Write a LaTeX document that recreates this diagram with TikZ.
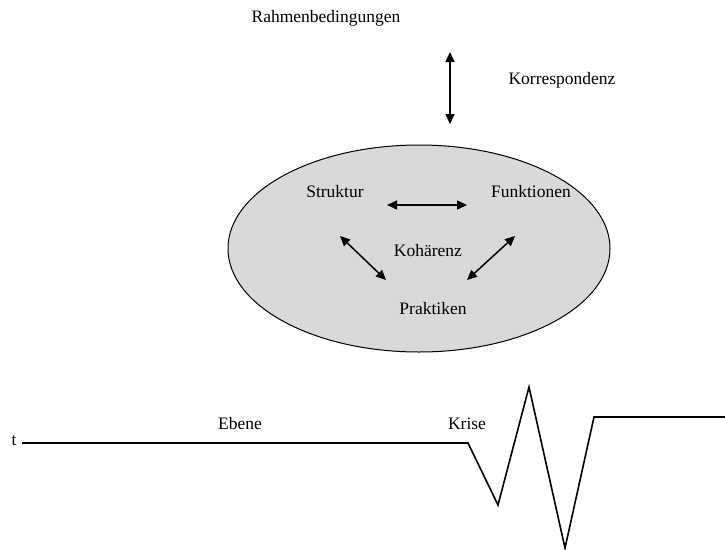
\documentclass[tikz,border=0pt]{standalone}
\usepackage{fontspec}
\setmainfont{Liberation Serif}
\usetikzlibrary{arrows.meta,shapes.geometric}
\begin{document}
\begin{tikzpicture}[x=1pt,y=-1pt,
  lbl/.style={font=\fontsize{17.5}{20}\selectfont, inner sep=0pt},
  twoway/.style={line width=1.5pt, {Triangle[length=10pt,width=9pt]}-{Triangle[length=10pt,width=9pt]}},
  oval/.style={draw, line width=1pt, fill=gray!30, ellipse, minimum width=382pt, minimum height=207pt, inner sep=0pt},
  wave/.style={line width=1.6pt, line join=miter}]
\useasboundingbox (0,0) rectangle (725,549);

% frame conditions and correspondence
\node[lbl] (rahmen) at (326,18) {Rahmenbedingungen};
\node[lbl] (korr) at (562,80) {Korrespondenz};
\coordinate (ktop) at (450,52);
\coordinate (kbot) at (450,124);
\draw[twoway] (ktop) -- (kbot);

% coherence ellipse
\node[oval] (ell) at (419,248.5) {};
\node[lbl] (struktur) at (335,192) {Struktur};
\node[lbl] (funktionen) at (531,192) {Funktionen};
\node[lbl] (kohaerenz) at (428,251) {Kohärenz};
\node[lbl] (praktiken) at (433,309) {Praktiken};

\coordinate (hA) at (387,205);
\coordinate (hB) at (467,205);
\coordinate (lA) at (340,236);
\coordinate (lB) at (386,280);
\coordinate (rA) at (515,236);
\coordinate (rB) at (467,280);
\draw[twoway] (hA) -- (hB);
\draw[twoway] (lA) -- (lB);
\draw[twoway] (rA) -- (rB);

% time line with crisis
\node[lbl] (t) at (14,441) {t};
\node[lbl] (ebene) at (240,424) {Ebene};
\node[lbl] (krise) at (467,424) {Krise};
\coordinate (w0) at (22,443);
\coordinate (w1) at (468,443);
\coordinate (w2) at (498,505);
\coordinate (w3) at (529,387);
\coordinate (w4) at (565,548);
\coordinate (w5) at (594,417);
\coordinate (w6) at (725,417);
\draw[wave] (w0) -- (w1) -- (w2) -- (w3) -- (w4) -- (w5) -- (w6);
\end{tikzpicture}
\end{document}
